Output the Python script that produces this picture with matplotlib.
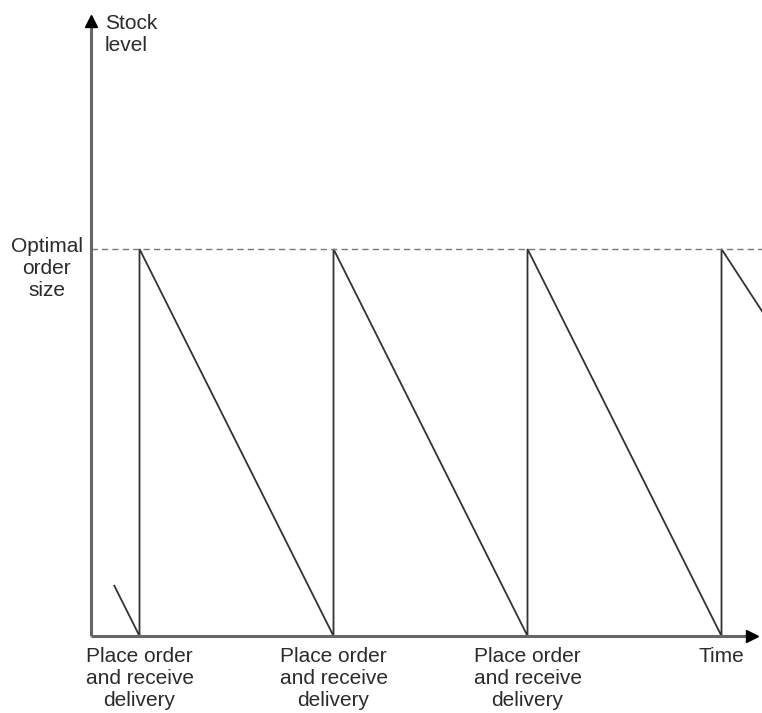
import numpy as np
import matplotlib
matplotlib.use('Agg')
import matplotlib.pyplot as plt

plt.rcParams['font.family'] = ['Liberation Sans', 'DejaVu Sans']

# time in order cycles, stock as fraction of optimal order size
order_times = [0.25, 1.25, 2.25, 3.25]
start_time = 0.12
start_level = 0.13
optimal_level = 1.0
last_empty_time = 4.55   # the final cycle runs off the right edge
order_labels = ['Place order\nand receive\ndelivery'] * 3
x_label = 'Time'
y_label = 'Stock\nlevel'
level_label = 'Optimal\norder\nsize'

# sawtooth path
xs = [start_time]
ys = [start_level]
for t in order_times:
    xs += [t, t]
    ys += [0, optimal_level]
xs.append(last_empty_time)
ys.append(0)

W, H = 762, 713
fig = plt.figure(figsize=(W / 100, H / 100), dpi=100)
ox, oy = 91, 636
top = 15
ax = fig.add_axes([ox / W, (H - oy) / H, (W - ox) / W, (oy - top) / H])
ax.set_xlim(0, (W - ox) / 194.0)
ax.set_ylim(0, (oy - top) / 387.0)
ax.axis('off')

ink = '#333333'
ax.plot(xs, ys, color=ink, lw=1.3, solid_joinstyle='miter')
ax.plot([0, ax.get_xlim()[1]], [optimal_level, optimal_level], color='#777777',
        lw=1.0, dashes=(4.5, 3))

# axes with arrows
ax.plot([0, 0], [0, 0.995], transform=ax.transAxes, color='#666666', lw=2.2,
        clip_on=False, solid_capstyle='butt')
ax.plot([0, 0.985], [0, 0], transform=ax.transAxes, color='#666666', lw=2.2,
        clip_on=False, solid_capstyle='butt')
ax.plot([0], [0.99], transform=ax.transAxes, marker='^', ms=8, color='black',
        clip_on=False)
ax.plot([0.985], [0], transform=ax.transAxes, marker='>', ms=8, color='black',
        clip_on=False)

txt = dict(fontsize=15, color='#2b2b2b', linespacing=1.2)
for t, lab in zip(order_times[:3], order_labels):
    ax.annotate(lab, (t, 0), xytext=(0, -8), textcoords='offset points',
                ha='center', va='top', annotation_clip=False, **txt)
ax.annotate(x_label, (order_times[3], 0), xytext=(0, -8), textcoords='offset points',
            ha='center', va='top', annotation_clip=False, **txt)
ax.annotate(y_label, (0, 1), xycoords='axes fraction', xytext=(10, 1),
            textcoords='offset points', ha='left', va='top', annotation_clip=False, **txt)
ax.annotate(level_label, (0, optimal_level), xytext=(-32, 9), textcoords='offset points',
            ha='center', va='top', annotation_clip=False, **txt)

fig.savefig('out.png', dpi=100)
